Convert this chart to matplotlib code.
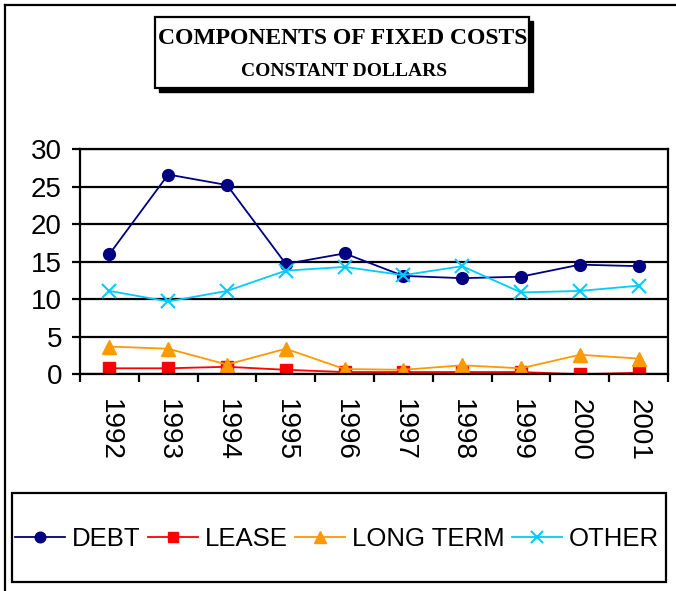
import matplotlib.pyplot as plt
from matplotlib.patches import Rectangle
from matplotlib.lines import Line2D

years = ['1992', '1993', '1994', '1995', '1996', '1997', '1998', '1999', '2000', '2001']
debt = [16.0, 26.6, 25.2, 14.7, 16.1, 13.1, 12.8, 13.0, 14.6, 14.4]
lease = [0.8, 0.8, 1.0, 0.6, 0.3, 0.3, 0.3, 0.3, 0.0, 0.2]
long_term = [3.7, 3.4, 1.3, 3.4, 0.7, 0.6, 1.2, 0.8, 2.6, 2.1]
other = [11.1, 9.7, 11.1, 13.8, 14.3, 13.2, 14.4, 10.9, 11.1, 11.8]

W, H = 676, 591
fig = plt.figure(figsize=(W / 100, H / 100), dpi=100)
plt.rcParams['font.family'] = ['Liberation Sans', 'DejaVu Sans']

def fx(px):
    return px / W

def fy(py):
    return 1 - py / H

# outer chart frame (only left and top edges are inside the picture)
fig.add_artist(Line2D([fx(5), fx(5)], [fy(5), 0], transform=fig.transFigure, color='black', linewidth=1.6))
fig.add_artist(Line2D([fx(5), 1], [fy(5), fy(5)], transform=fig.transFigure, color='black', linewidth=1.6))

ax = fig.add_axes([fx(80), fy(374.3), fx(668) - fx(80), fy(149) - fy(374.3)])
x = list(range(len(years)))

ax.plot(x, debt, color='#000080', marker='o', markersize=8.5, linewidth=1.3, label='DEBT')
ax.plot(x, lease, color='#FF0000', marker='s', markersize=8.5, linewidth=1.3, label='LEASE')
ax.plot(x, long_term, color='#FF9900', marker='^', markersize=9.5, linewidth=1.3, label='LONG TERM')
ax.plot(x, other, color='#00CCFF', marker='x', markersize=10, markeredgewidth=1.5,
        linewidth=1.3, label='OTHER')

ax.set_xlim(-0.5, 9.5)
ax.set_ylim(0, 30)
ax.set_yticks(range(0, 31, 5))
ax.yaxis.grid(True, color='black', linewidth=1.6)
ax.set_axisbelow(True)
ax.tick_params(axis='y', labelsize=20, length=6, width=1.6, pad=7, direction='out')

ax.set_xticks([i - 0.5 for i in range(len(years) + 1)])
ax.set_xticklabels([])
ax.set_xticks(x, minor=True)
ax.set_xticklabels(years, minor=True, rotation=-90, fontsize=20)
ax.tick_params(axis='x', which='major', length=6, width=1.6, direction='out')
ax.tick_params(axis='x', which='minor', length=0, pad=18)

for s in ax.spines.values():
    s.set_linewidth(1.6)
    s.set_color('black')

# title box with shadow
fig.add_artist(Rectangle((fx(159), fy(92)), fx(533) - fx(159), fy(21) - fy(92),
                         transform=fig.transFigure, facecolor='black', edgecolor='black'))
fig.add_artist(Rectangle((fx(155), fy(88)), fx(529) - fx(155), fy(17) - fy(88),
                         transform=fig.transFigure, facecolor='white', edgecolor='black',
                         linewidth=1.6))
fig.text(fx(343), fy(38), 'COMPONENTS OF FIXED COSTS', ha='center', va='center',
         family='Liberation Serif', fontweight='bold', fontsize=17)
fig.text(fx(344), fy(71), 'CONSTANT DOLLARS', ha='center', va='center',
         family='Liberation Serif', fontweight='bold', fontsize=14)

# legend box
fig.add_artist(Rectangle((fx(12), fy(582)), fx(666) - fx(12), fy(493) - fy(582),
                         transform=fig.transFigure, fill=False, edgecolor='black',
                         linewidth=1.6))
fig.legend(loc='center', bbox_to_anchor=(fx(337), fy(539)), ncol=4, fontsize=18.5,
           frameon=False, handlelength=1.95, handletextpad=0.25, columnspacing=0.3,
           markerscale=0.9)

fig.savefig('out.png', dpi=100)
